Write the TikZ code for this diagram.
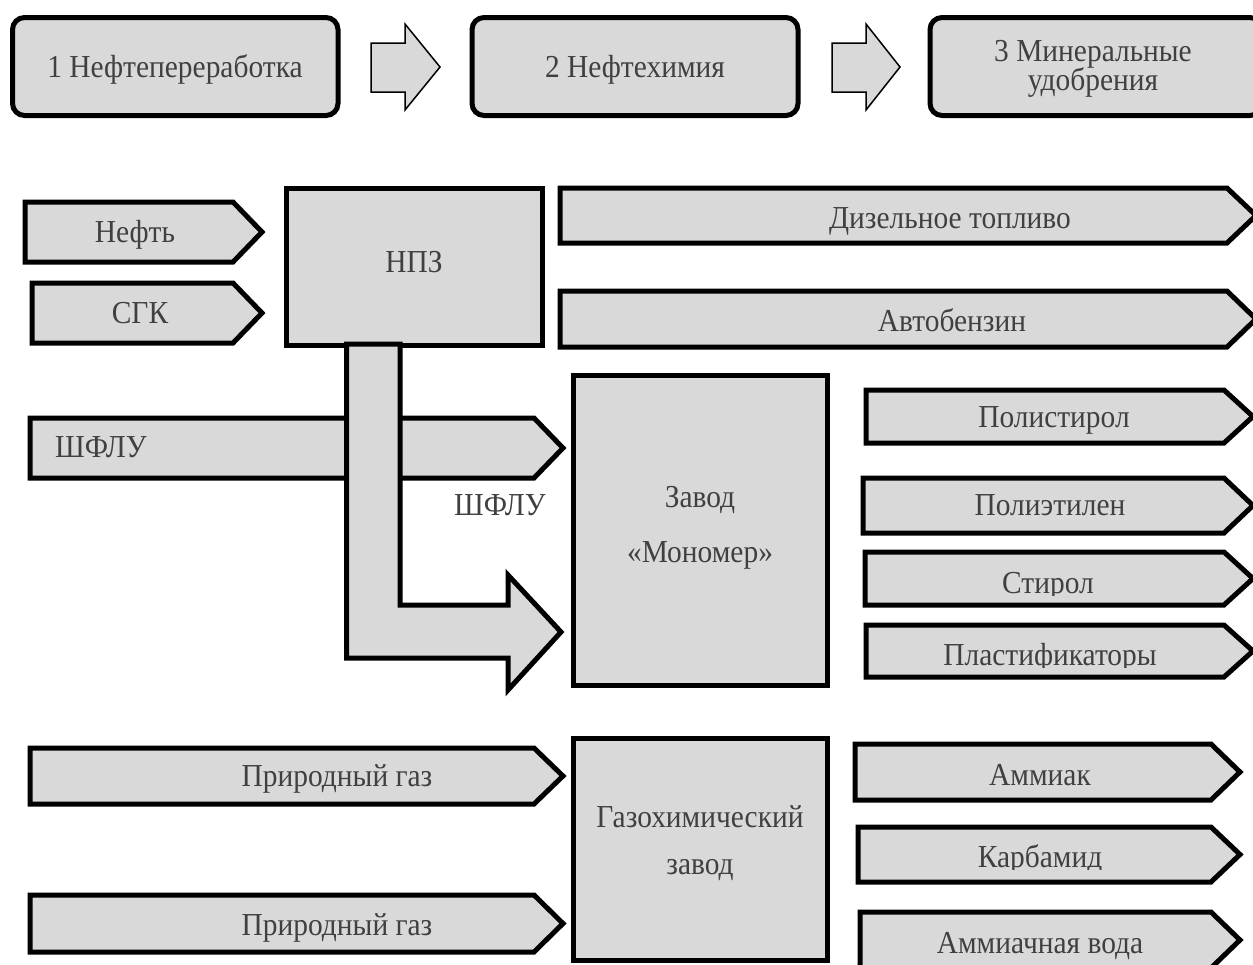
\documentclass[tikz,border=0pt]{standalone}
\usepackage{fontspec}
\setmainfont{Liberation Serif}[FakeStretch=0.92]
\definecolor{boxgray}{RGB}{217,217,217}
\definecolor{txtgray}{RGB}{64,64,64}

\begin{document}
\begin{tikzpicture}[x=1pt, y=-1pt, line join=miter,
    blk/.style={draw=black, line width=5pt, fill=boxgray},
    stage/.style={draw=black, line width=5pt, fill=boxgray, rounded corners=12pt},
    thinarrow/.style={draw=black, line width=1.5pt, fill=boxgray},
    lbl/.style={text=txtgray, inner sep=0pt, font=\fontsize{32}{38}\selectfont}]
  \useasboundingbox (0,0) rectangle (1253,964);
  % stages on top
  \draw[stage] (12.5,17.5) rectangle (338,115.5);
  \node[lbl, anchor=base] (st1) at (175,77) {1 Нефтепереработка};
  \draw[thinarrow] (371,43) -- (405,43) -- (405,24) -- (440,67) -- (405,110) -- (405,92) -- (371,92) -- cycle;
  \draw[stage] (472,17.5) rectangle (798,115.5);
  \node[lbl, anchor=base] (st2) at (635,77) {2 Нефтехимия};
  \draw[thinarrow] (832,43) -- (866,43) -- (866,24) -- (900,67) -- (866,110) -- (866,92) -- (832,92) -- cycle;
  \draw[stage] (930,17.5) rectangle (1262,115.5);
  \node[lbl, anchor=base, align=center] (st3) at (1093,90) {3 Минеральные\\[-9pt]удобрения};
  % plants
  \draw[blk] (286,188) rectangle (542,345);
  \node[lbl, anchor=base] (npz) at (414,272) {НПЗ};
  \draw[blk] (573.5,375.5) rectangle (827,685);
  \node[lbl, anchor=base, align=center] (mono) at (700,562) {Завод\\[17pt]«Мономер»};
  \draw[blk] (573.5,738) rectangle (827,960);
  \node[lbl, anchor=base, align=center] (gcz) at (700,874) {Газохимический\\[9pt]завод};
  % feed and product arrows (x1/y1/tip/y2/text x/baseline/clip/name/text)
  \foreach \xa/\ya/\xb/\yb/\tx/\ty/\cb/\nm/\txt in {
      25/202/262/262/135/242/262/oil/Нефть,
      32/283/262/343/140/323/343/gcond/СГК,
      560/188/1256/243/950/228/243/diesel/Дизельное топливо,
      560/291/1256/347/952/331/347/petrol/Автобензин,
      866/390/1253/443/1054/427/443/ps/Полистирол,
      863/478/1253/533/1050/515/533/pe/Полиэтилен,
      865/552/1253/605/1048/593/595/styr/Стирол,
      866/625/1253/677/1050/665/667/plast/Пластификаторы,
      30/748/563/804/337/786/804/gasa/Природный газ,
      30/895/563/952/337/935/952/gasb/Природный газ,
      855/744/1240/800/1040/785/800/nhthree/Аммиак,
      858/827/1240/882/1040/867/869/urea/Карбамид,
      860/912/1240/968/1040/953/968/aqua/Аммиачная вода} {
    \fill[boxgray] (\xa,\ya) -- (\xb-29,\ya) -- (\xb,{(\ya+\yb)/2}) -- (\xb-29,\yb) -- (\xa,\yb) -- cycle;
    \begin{scope}
      \clip (\xa,\ya) rectangle (\xb,\cb);
      \node[lbl, anchor=base] (\nm) at (\tx,\ty) {\txt};
    \end{scope}
    \draw[line width=5pt] (\xa,\ya) -- (\xb-29,\ya) -- (\xb,{(\ya+\yb)/2}) -- (\xb-29,\yb) -- (\xa,\yb) -- cycle;
  }
  % wide fraction feed, passes under the bent arrow
  \draw[blk] (30,418) -- (534,418) -- (563,448) -- (534,478) -- (30,478) -- cycle;
  \node[lbl, anchor=base west] (ngla) at (55,457) {ШФЛУ};
  % bent arrow from the refinery to the monomer plant
  \draw[blk] (346.5,344) -- (400,344) -- (400,605) -- (508,605) -- (508,575) -- (561,632)
    -- (508,690) -- (508,658) -- (346.5,658) -- cycle;
  \node[lbl, anchor=base] (nglb) at (500,515) {ШФЛУ};
\end{tikzpicture}
\end{document}
